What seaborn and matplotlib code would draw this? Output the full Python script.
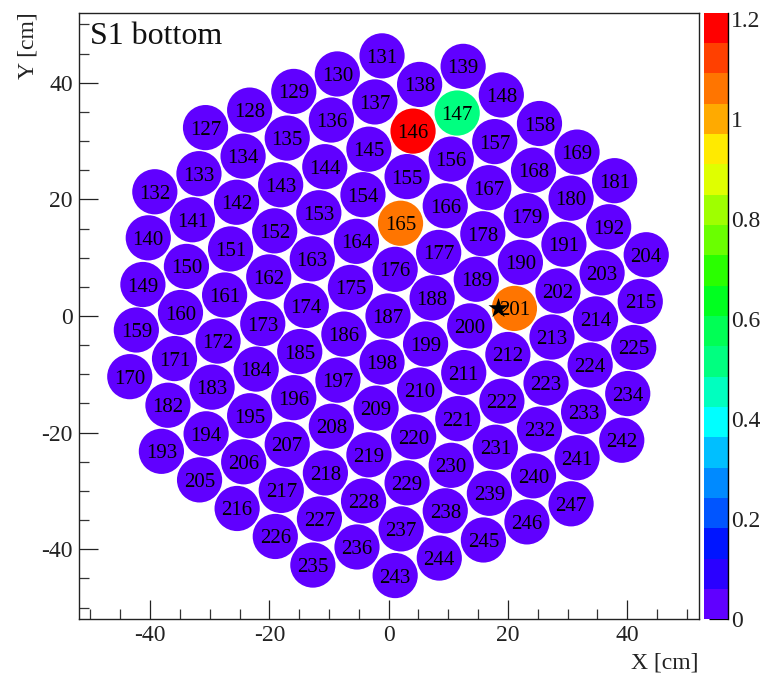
import matplotlib
matplotlib.use("Agg")
import matplotlib.pyplot as plt
import pandas as pd
import seaborn as sns
from matplotlib.cm import ScalarMappable
from matplotlib.colors import ListedColormap, Normalize
from matplotlib.ticker import MultipleLocator

pmt_ids = list(range(127, 248))

pmt_x = [
    -30.7, -23.3, -15.9, -8.6, -1.1,
    -39.2, -31.8, -24.4, -17.0, -9.6, -2.3, 5.2, 12.5,
    -40.3, -32.9, -25.5, -18.1, -10.7, -3.3, 4.1, 11.5, 18.9,
    -41.2, -33.9, -26.5, -19.1, -11.7, -4.3, 3.1, 10.5, 17.8, 25.3,
    -42.3, -34.9, -27.5, -20.1, -12.8, -5.4, 2.0, 9.5, 16.8, 24.3, 31.6,
    -43.4, -35.9, -28.6, -21.1, -13.8, -6.4, 1.1, 8.4, 15.8, 23.1, 30.6, 37.9,
    -37.0, -29.6, -22.2, -14.9, -7.5, -0.1, 7.3, 14.7, 22.1, 29.4, 36.9,
    -38.1, -30.6, -23.3, -15.9, -8.5, -1.1, 6.2, 13.6, 21.1, 28.4, 35.8, 43.2,
    -31.7, -24.3, -17.0, -9.6, -2.1, 5.2, 12.6, 20.0, 27.4, 34.7, 42.2,
    -25.4, -18.0, -10.6, -3.3, 4.2, 11.6, 19.0, 26.4, 33.8, 41.1,
    -19.0, -11.6, -4.2, 3.1, 10.5, 17.9, 25.3, 32.7, 40.1,
    -12.7, -5.3, 2.1, 9.5, 16.9, 24.3, 31.6, 39.1,
    1.1, 8.5, 15.9, 23.2, 30.6,
]

pmt_y = [
    32.3, 35.3, 38.5, 41.5, 44.6,
    21.3, 24.4, 27.4, 30.5, 33.6, 36.7, 39.7, 42.8,
    13.4, 16.5, 19.5, 22.5, 25.6, 28.6, 31.7, 34.8, 37.9,
    5.4, 8.5, 11.5, 14.6, 17.7, 20.8, 23.9, 26.9, 29.9, 33.0,
    -2.4, 0.6, 3.6, 6.7, 9.8, 12.8, 15.9, 18.9, 22.0, 25.0, 28.1,
    -10.4, -7.3, -4.3, -1.3, 1.8, 4.9, 8.0, 10.9, 14.1, 17.2, 20.2, 23.2,
    -15.3, -12.2, -9.1, -6.1, -3.1, 0.0, 3.1, 6.3, 9.2, 12.3, 15.3,
    -23.2, -20.2, -17.1, -14.0, -11.0, -7.9, -4.8, -1.7, 1.3, 4.3, 7.4, 10.5,
    -28.1, -25.0, -22.0, -18.9, -15.8, -12.7, -9.7, -6.6, -3.6, -0.5, 2.5,
    -33.0, -29.9, -26.9, -23.8, -20.7, -17.6, -14.6, -11.5, -8.4, -5.4,
    -37.8, -34.8, -31.7, -28.6, -25.6, -22.5, -19.4, -16.4, -13.3,
    -42.7, -39.6, -36.5, -33.4, -30.4, -27.4, -24.3, -21.3,
    -44.5, -41.5, -38.4, -35.3, -32.2,
]

pmt_signal = [
    0, 0, 0, 0, 0,
    0, 0, 0, 0, 0, 0, 0, 0,
    0, 0, 0, 0, 0, 0, 1.2, 0.5, 0,
    0, 0, 0, 0, 0, 0, 0, 0, 0, 0,
    0, 0, 0, 0, 0, 0, 1.06, 0, 0, 0, 0,
    0, 0, 0, 0, 0, 0, 0, 0, 0, 0, 0, 0,
    0, 0, 0, 0, 0, 0, 0, 0, 0, 0, 0,
    0, 0, 0, 0, 0, 0, 0, 0, 1.06, 0, 0, 0,
    0, 0, 0, 0, 0, 0, 0, 0, 0, 0, 0,
    0, 0, 0, 0, 0, 0, 0, 0, 0, 0,
    0, 0, 0, 0, 0, 0, 0, 0, 0,
    0, 0, 0, 0, 0, 0, 0, 0,
    0, 0, 0, 0, 0,
]

star_x = [18.3]
star_y = [1.4]

band_colors = [
    "#6000FF", "#2A00FF", "#0015FF", "#0055FF", "#008AFF",
    "#00BFFF", "#00FFFF", "#00FFBF", "#00FF80", "#00FF55",
    "#00FF20", "#2AFF00", "#6AFF00", "#9FFF00", "#DFFF00",
    "#FFEA00", "#FFAA00", "#FF7500", "#FF4000", "#FF0000",
]
cbar_ticks = [0, 0.2, 0.4, 0.6, 0.8, 1, 1.2]
cbar_labels = ["0", "0.2", "0.4", "0.6", "0.8", "1", "1.2"]
axis_ticks = [-40, -20, 0, 20, 40]

sns.set_style("ticks")
plt.rcParams["font.family"] = ["Liberation Serif", "DejaVu Serif"]
plt.rcParams["axes.unicode_minus"] = False

W, H = 771, 678
fig = plt.figure(figsize=(W / 100, H / 100), dpi=100)
ax = fig.add_axes([78.5 / W, (H - 619.3) / H, 620.2 / W, 606.6 / H])

df = pd.DataFrame({"x": pmt_x, "y": pmt_y, "signal": pmt_signal, "pmt": pmt_ids})
cmap = ListedColormap(band_colors)
norm = Normalize(0, 1.212)

sns.scatterplot(data=df, x="x", y="y", hue="signal", palette=cmap, hue_norm=norm,
                s=1060, linewidth=0, legend=False, ax=ax, zorder=2)
for _, row in df.iterrows():
    ax.text(row["x"], row["y"], str(int(row["pmt"])), ha="center", va="center_baseline",
            fontsize=15, color="black", zorder=3)
ax.scatter(star_x, star_y, marker="*", s=230, color="black", linewidth=0, zorder=4)

ax.set_xlim(-52, 52)
ax.set_ylim(-52, 52)
ax.set_xticks(axis_ticks)
ax.set_yticks(axis_ticks)
ax.xaxis.set_minor_locator(MultipleLocator(5))
ax.yaxis.set_minor_locator(MultipleLocator(5))
ax.tick_params(which="major", direction="in", length=13.7, width=0.9, labelsize=17,
               pad=4, color="#222222", labelcolor="#222222")
ax.tick_params(which="minor", direction="in", length=7.2, width=0.9, color="#333333")
for side in ax.spines.values():
    side.set_visible(True)
    side.set_linewidth(1.0)
    side.set_color("#222222")

ax.set_xlabel("X [cm]", loc="right", fontsize=17, labelpad=5, color="#222222")
ax.set_ylabel("Y [cm]", loc="top", fontsize=17, labelpad=2, color="#222222")
ax.text(90 / W, (H - 37) / H, "S1 bottom", transform=fig.transFigure, fontsize=23,
        ha="left", va="center", color="#111111")

cax = fig.add_axes([704.3 / W, (H - 619.3) / H, 24 / W, 606.6 / H])
cbar = fig.colorbar(ScalarMappable(norm=norm, cmap=cmap), cax=cax)
cbar.outline.set_visible(False)
cbar.set_ticks(cbar_ticks)
cbar.set_ticklabels(cbar_labels)
cbar.ax.tick_params(direction="in", length=13.7, width=0.9, labelsize=17, pad=2,
                    color="black", labelcolor="#222222")
cbar.ax.minorticks_off()
cax.spines["right"].set_visible(True)
cax.spines["right"].set_linewidth(1.0)
cax.spines["right"].set_color("black")

fig.savefig("out.png", dpi=100)
